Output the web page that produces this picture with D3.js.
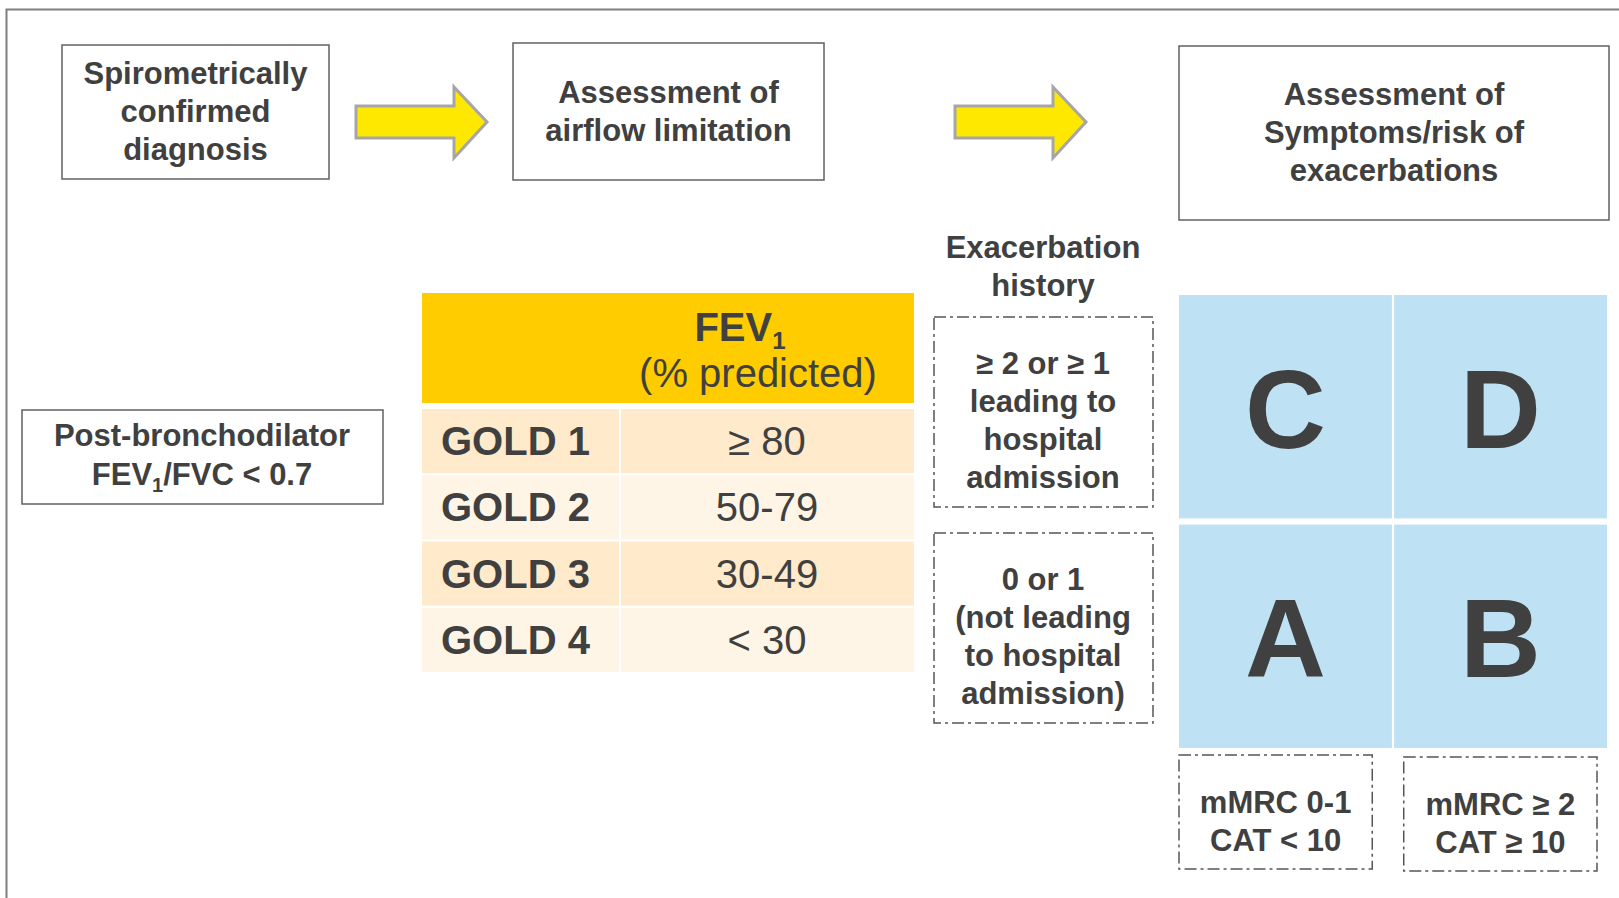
<!DOCTYPE html>
<html>
<head>
<meta charset="utf-8">
<script src="https://cdn.jsdelivr.net/npm/d3@7"></script>
<style>
body { margin: 0; background: #fff; }
svg { display: block; }
text { font-family: "Liberation Sans", Arial, sans-serif; fill: #404040; }
</style>
</head>
<body>
<svg id="chart" width="1619" height="898"></svg>
<script>
// flow steps on top row
var steps = [
    ["Spirometrically", "confirmed", "diagnosis"],
    ["Assessment of", "airflow limitation"],
    ["Assessment of", "Symptoms/risk of", "exacerbations"]
]
var goldGrades = ["GOLD 1", "GOLD 2", "GOLD 3", "GOLD 4"]
var fevRanges = ["≥ 80", "50-79", "30-49", "< 30"]
var exacerbationRows = ["high", "low"]
var exacerbationText = [
    ["≥ 2 or ≥ 1", "leading to", "hospital", "admission"],
    ["0 or 1", "(not leading", "to hospital", "admission)"]
]
var symptomCols = ["low", "high"]
var symptomText = [["mMRC 0-1", "CAT < 10"], ["mMRC ≥ 2", "CAT ≥ 10"]]
var groupLetters = [["C", "D"], ["A", "B"]]

var svg = d3.select("#chart")
var lineGap = 38

function multiLine(g, lines, cx, cy, size, off) {
    var t = g.append("text")
        .attr("text-anchor", "middle")
        .style("font-size", size + "px")
        .style("font-weight", "bold")
    lines.forEach(function(l, i) {
        t.append("tspan")
            .attr("x", cx)
            .attr("y", cy + (i - (lines.length - 1) / 2) * lineGap + off)
            .text(l)
    })
    return t
}

// outer frame (only top and left visible)
svg.append("path")
    .attr("d", "M6.5,898V9.5H1619")
    .attr("fill", "none")
    .attr("stroke", "#7f7f7f")
    .attr("stroke-width", 2)

// step boxes
var stepBoxes = [
    {x: 62, y: 45, w: 267, h: 134},
    {x: 513, y: 43, w: 311, h: 137},
    {x: 1179, y: 46, w: 430, h: 174}
]
stepBoxes.forEach(function(b, i) {
    svg.append("rect")
        .attr("x", b.x).attr("y", b.y).attr("width", b.w).attr("height", b.h)
        .attr("fill", "#fff").attr("stroke", "#606060").attr("stroke-width", 1.5)
    multiLine(svg, steps[i], b.x + b.w / 2, b.y + b.h / 2, 31, 10)
})

// yellow arrows
var arrowShape = [[0, 19], [98, 19], [98, 0], [131, 35], [98, 71], [98, 51], [0, 51]]
var arrowAt = [[356, 87], [955, 87]]
arrowAt.forEach(function(a) {
    svg.append("path")
        .attr("transform", "translate(" + a[0] + "," + a[1] + ")")
        .attr("d", d3.line()(arrowShape) + "Z")
        .attr("fill", "#ffe800")
        .attr("stroke", "#a6a6a6")
        .attr("stroke-width", 3)
        .attr("stroke-linejoin", "miter")
})

// post-bronchodilator box
svg.append("rect")
    .attr("x", 22).attr("y", 410).attr("width", 361).attr("height", 94)
    .attr("fill", "#fff").attr("stroke", "#606060").attr("stroke-width", 1.5)
var pb = svg.append("text")
    .attr("text-anchor", "middle")
    .style("font-size", "31px").style("font-weight", "bold")
pb.append("tspan").attr("x", 202).attr("y", 446).text("Post-bronchodilator")
var pb2 = pb.append("tspan").attr("x", 202).attr("y", 485)
pb2.text("FEV")
pb.append("tspan").attr("dy", 7).style("font-size", "20px").text("1")
pb.append("tspan").attr("dy", -7).text("/FVC < 0.7")

// FEV1 table
var tableLeft = 422, colSplit = 620, tableRight = 914
var rowY = d3.scaleBand().domain(goldGrades).range([409, 672]).paddingInner(0.03)
var rowFill = ["#ffeacc", "#fff5e6", "#ffeacc", "#fff5e6"]

svg.append("rect")
    .attr("x", tableLeft).attr("y", 293)
    .attr("width", tableRight - tableLeft).attr("height", 110)
    .attr("fill", "#ffcc00")

var fevHead = svg.append("text")
    .attr("text-anchor", "middle")
    .attr("x", 740).attr("y", 341)
    .style("font-size", "40px").style("font-weight", "bold")
fevHead.append("tspan").text("FEV")
fevHead.append("tspan").attr("dy", 8).style("font-size", "24px").text("1")
svg.append("text")
    .attr("text-anchor", "middle")
    .attr("x", 758).attr("y", 387)
    .style("font-size", "40px")
    .text("(% predicted)")

var rows = svg.selectAll("g.row")
    .data(goldGrades)
    .enter()
    .append("g")
    .attr("class", "row")
rows.append("rect")
    .attr("x", tableLeft)
    .attr("y", function(d) { return rowY(d) })
    .attr("width", colSplit - tableLeft - 1)
    .attr("height", rowY.bandwidth())
    .attr("fill", function(d, i) { return rowFill[i] })
rows.append("rect")
    .attr("x", colSplit + 1)
    .attr("y", function(d) { return rowY(d) })
    .attr("width", tableRight - colSplit - 1)
    .attr("height", rowY.bandwidth())
    .attr("fill", function(d, i) { return rowFill[i] })
rows.append("text")
    .attr("x", 441)
    .attr("y", function(d) { return rowY(d) + rowY.bandwidth() / 2 + 14 })
    .style("font-size", "40px").style("font-weight", "bold")
    .text(function(d) { return d })
rows.append("text")
    .attr("text-anchor", "middle")
    .attr("x", 767)
    .attr("y", function(d) { return rowY(d) + rowY.bandwidth() / 2 + 14 })
    .style("font-size", "40px")
    .text(function(d, i) { return fevRanges[i] })

// exacerbation history
multiLine(svg, ["Exacerbation", "history"], 1043, 258, 31, 19)
var exY = d3.scaleBand().domain(exacerbationRows).range([317, 723]).paddingInner(0.12)
var dash = "12,4,3,4"
exacerbationRows.forEach(function(r, i) {
    svg.append("rect")
        .attr("x", 934).attr("y", exY(r))
        .attr("width", 219).attr("height", exY.bandwidth())
        .attr("fill", "none").attr("stroke", "#555").attr("stroke-width", 1.5)
        .attr("stroke-dasharray", dash)
    multiLine(svg, exacerbationText[i], 1043, exY(r) + exY.bandwidth() / 2, 31, 19)
})

// ABCD quadrants
var qx = d3.scaleBand().domain(symptomCols).range([1179, 1607]).paddingInner(0.01)
var qy = d3.scaleBand().domain(exacerbationRows).range([295, 748]).paddingInner(0.027)
exacerbationRows.forEach(function(r, i) {
    symptomCols.forEach(function(c, j) {
        svg.append("rect")
            .attr("x", qx(c)).attr("y", qy(r))
            .attr("width", qx.bandwidth()).attr("height", qy.bandwidth())
            .attr("fill", "#bee1f4")
        svg.append("text")
            .attr("text-anchor", "middle")
            .attr("x", qx(c) + qx.bandwidth() / 2)
            .attr("y", qy(r) + qy.bandwidth() / 2 + 41)
            .style("font-size", "112px").style("font-weight", "bold")
            .text(groupLetters[i][j])
    })
})

// symptom boxes
var sx = d3.scaleBand().domain(symptomCols).range([1179, 1597]).paddingInner(0.14)
symptomCols.forEach(function(c, j) {
    var top = 755 + j * 2
    svg.append("rect")
        .attr("x", sx(c)).attr("y", top)
        .attr("width", sx.bandwidth()).attr("height", 114)
        .attr("fill", "none").attr("stroke", "#555").attr("stroke-width", 1.5)
        .attr("stroke-dasharray", dash)
    multiLine(svg, symptomText[j], sx(c) + sx.bandwidth() / 2, top + 57, 31, 20)
})
</script>
</body>
</html>
